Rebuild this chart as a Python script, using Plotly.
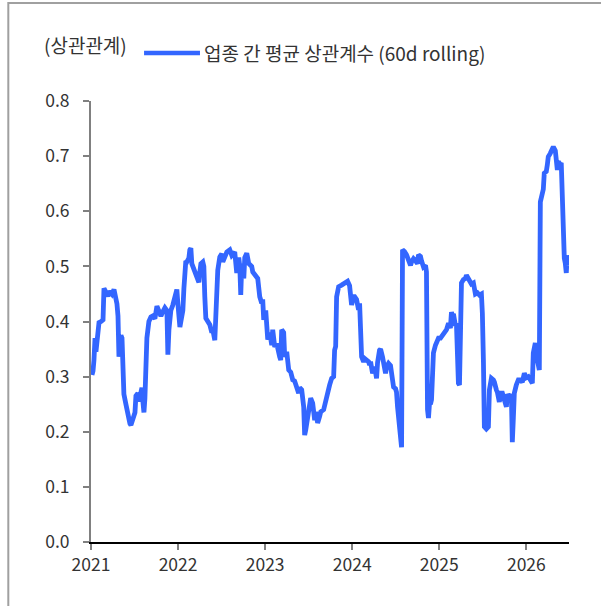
import plotly.graph_objects as go

# Time axis in decimal years (2021.0 = start of 2021)
years = [
    2021.011, 2021.023, 2021.034, 2021.046, 2021.057, 2021.069, 2021.080, 2021.092, 2021.115, 2021.138,
    2021.149, 2021.172, 2021.195, 2021.218, 2021.241, 2021.264, 2021.287, 2021.298, 2021.310, 2021.321,
    2021.333, 2021.344, 2021.356, 2021.367, 2021.378, 2021.401, 2021.424, 2021.447, 2021.459, 2021.482,
    2021.505, 2021.516, 2021.539, 2021.550, 2021.573, 2021.585, 2021.596, 2021.608, 2021.619, 2021.631,
    2021.642, 2021.665, 2021.688, 2021.711, 2021.734, 2021.757, 2021.780, 2021.803, 2021.826, 2021.849,
    2021.872, 2021.883, 2021.895, 2021.917, 2021.940, 2021.963, 2021.975, 2021.986, 2021.998,
    2022.021, 2022.032, 2022.055, 2022.067, 2022.078, 2022.089, 2022.101, 2022.124, 2022.135, 2022.147,
    2022.158, 2022.170, 2022.193, 2022.216, 2022.239, 2022.250, 2022.262, 2022.284, 2022.296, 2022.307,
    2022.319, 2022.342, 2022.365, 2022.388, 2022.399, 2022.422, 2022.434, 2022.445, 2022.456, 2022.479,
    2022.502, 2022.514, 2022.537, 2022.560, 2022.594, 2022.617, 2022.651, 2022.674, 2022.686, 2022.697,
    2022.709, 2022.720, 2022.732, 2022.755, 2022.766, 2022.789, 2022.812, 2022.846, 2022.858, 2022.881,
    2022.915, 2022.938, 2022.961, 2022.972, 2022.984,
    2023.007, 2023.018, 2023.030, 2023.053, 2023.076, 2023.087, 2023.110, 2023.133, 2023.145, 2023.167,
    2023.179, 2023.190, 2023.213, 2023.225, 2023.248, 2023.259, 2023.271, 2023.294, 2023.317, 2023.339,
    2023.362, 2023.385, 2023.397, 2023.420, 2023.443, 2023.454, 2023.466, 2023.489, 2023.500, 2023.523,
    2023.546, 2023.569, 2023.580, 2023.603, 2023.626, 2023.638, 2023.672, 2023.683, 2023.706, 2023.729,
    2023.741, 2023.764, 2023.787, 2023.798, 2023.810, 2023.821, 2023.844, 2023.878, 2023.913, 2023.947,
    2023.970, 2023.993,
    2024.016, 2024.028, 2024.050, 2024.073, 2024.085, 2024.096, 2024.108, 2024.131, 2024.142, 2024.165,
    2024.188, 2024.200, 2024.211, 2024.234, 2024.257, 2024.280, 2024.291, 2024.314, 2024.326, 2024.349,
    2024.360, 2024.383, 2024.395, 2024.417, 2024.440, 2024.452, 2024.475, 2024.498, 2024.509, 2024.521,
    2024.544, 2024.555, 2024.567, 2024.578, 2024.601, 2024.624, 2024.647, 2024.670, 2024.681, 2024.704,
    2024.727, 2024.750, 2024.761, 2024.784, 2024.796, 2024.819, 2024.842, 2024.853, 2024.865, 2024.876,
    2024.888, 2024.899, 2024.911, 2024.922, 2024.933, 2024.956, 2024.968, 2024.991,
    2025.014, 2025.025, 2025.048, 2025.071, 2025.083, 2025.106, 2025.128, 2025.140, 2025.151, 2025.163,
    2025.186, 2025.197, 2025.209, 2025.220, 2025.232, 2025.243, 2025.255, 2025.278, 2025.300, 2025.312,
    2025.335, 2025.358, 2025.369, 2025.392, 2025.404, 2025.415, 2025.438, 2025.461, 2025.484, 2025.495,
    2025.507, 2025.518, 2025.541, 2025.564, 2025.576, 2025.599, 2025.622, 2025.633, 2025.656, 2025.667,
    2025.690, 2025.702, 2025.725, 2025.748, 2025.771, 2025.782, 2025.805, 2025.828, 2025.839, 2025.851,
    2025.862, 2025.885, 2025.908, 2025.931, 2025.954, 2025.977,
    2026.000, 2026.023, 2026.034, 2026.069, 2026.080, 2026.103, 2026.115, 2026.138, 2026.149, 2026.161,
    2026.183, 2026.195, 2026.206, 2026.229, 2026.241, 2026.252, 2026.275, 2026.298, 2026.310, 2026.333,
    2026.344, 2026.356, 2026.367, 2026.390, 2026.401, 2026.424, 2026.436, 2026.447, 2026.459, 2026.470,
    2026.482,
]

# Average cross-sector correlation, 60-day rolling window
avg_corr = [
    0.303, 0.310, 0.330, 0.370, 0.345, 0.372, 0.390, 0.398, 0.400, 0.403,
    0.460, 0.452, 0.446, 0.455, 0.450, 0.458, 0.440, 0.432, 0.410, 0.336,
    0.360, 0.375, 0.370, 0.330, 0.268, 0.250, 0.228, 0.215, 0.212, 0.222,
    0.235, 0.265, 0.270, 0.255, 0.275, 0.280, 0.255, 0.235, 0.260, 0.340,
    0.370, 0.400, 0.408, 0.410, 0.405, 0.428, 0.415, 0.410, 0.418, 0.425,
    0.420, 0.340, 0.385, 0.420, 0.430, 0.450, 0.456, 0.458, 0.432,
    0.390, 0.400, 0.420, 0.460, 0.490, 0.510, 0.508, 0.515, 0.530, 0.533,
    0.505, 0.500, 0.488, 0.480, 0.471, 0.490, 0.505, 0.508, 0.500, 0.445,
    0.406, 0.400, 0.394, 0.380, 0.385, 0.366, 0.415, 0.453, 0.493, 0.517,
    0.523, 0.508, 0.515, 0.526, 0.530, 0.520, 0.526, 0.488, 0.500, 0.516,
    0.500, 0.448, 0.505, 0.478, 0.516, 0.524, 0.505, 0.500, 0.490, 0.484,
    0.478, 0.445, 0.433, 0.440, 0.403,
    0.420, 0.385, 0.367, 0.380, 0.357, 0.385, 0.354, 0.360, 0.348, 0.336,
    0.330, 0.385, 0.380, 0.336, 0.345, 0.330, 0.312, 0.308, 0.294, 0.292,
    0.281, 0.270, 0.280, 0.276, 0.245, 0.194, 0.203, 0.227, 0.244, 0.261,
    0.252, 0.221, 0.236, 0.216, 0.228, 0.236, 0.240, 0.249, 0.258, 0.276,
    0.285, 0.297, 0.300, 0.348, 0.355, 0.445, 0.463, 0.466, 0.471, 0.473,
    0.465, 0.430,
    0.445, 0.445, 0.440, 0.421, 0.433, 0.336, 0.336, 0.327, 0.333, 0.330,
    0.327, 0.321, 0.327, 0.306, 0.318, 0.297, 0.325, 0.348, 0.350, 0.335,
    0.320, 0.306, 0.318, 0.324, 0.320, 0.300, 0.281, 0.278, 0.272, 0.245,
    0.197, 0.188, 0.172, 0.530, 0.527, 0.521, 0.512, 0.502, 0.508, 0.514,
    0.510, 0.505, 0.521, 0.518, 0.510, 0.499, 0.502, 0.490, 0.240, 0.225,
    0.252, 0.250, 0.258, 0.288, 0.343, 0.357, 0.364, 0.370,
    0.370, 0.372, 0.379, 0.382, 0.385, 0.397, 0.388, 0.417, 0.410, 0.414,
    0.392, 0.397, 0.324, 0.288, 0.285, 0.370, 0.470, 0.476, 0.478, 0.484,
    0.476, 0.470, 0.468, 0.470, 0.450, 0.450, 0.452, 0.448, 0.450, 0.415,
    0.330, 0.209, 0.205, 0.209, 0.276, 0.297, 0.294, 0.290, 0.276, 0.272,
    0.254, 0.270, 0.270, 0.260, 0.245, 0.268, 0.262, 0.268, 0.181, 0.225,
    0.270, 0.285, 0.294, 0.294, 0.290, 0.306,
    0.298, 0.300, 0.296, 0.288, 0.343, 0.361, 0.340, 0.312, 0.312, 0.617,
    0.633, 0.640, 0.669, 0.672, 0.684, 0.699, 0.705, 0.715, 0.717, 0.710,
    0.681, 0.675, 0.690, 0.685, 0.688, 0.530, 0.515, 0.506, 0.488, 0.520,
    0.502,
]

tick_years = [2021, 2022, 2023, 2024, 2025, 2026]
tick_labels = ["2021", "2022", "2023", "2024", "2025", "2026"]
series_name = "업종 간 평균 상관계수 (60d rolling)"
unit_label = "(상관관계)"

LINE_COLOR = "#3366ff"
TEXT_COLOR = "#333333"
FONT = "Noto Sans CJK KR"

fig = go.Figure()
fig.add_trace(go.Scatter(
    x=years, y=avg_corr, mode="lines", name=series_name,
    line=dict(color=LINE_COLOR, width=4.8), showlegend=False,
))

fig.update_layout(
    width=601, height=606,
    margin=dict(l=91, r=32, t=101, b=64),
    paper_bgcolor="white", plot_bgcolor="white",
    font=dict(family=FONT, size=17.5, color=TEXT_COLOR),
    xaxis=dict(
        range=[2021, 2026.49], tickvals=tick_years, ticktext=tick_labels,
        showgrid=False, zeroline=False, showline=True, linecolor="#000000", linewidth=1.5,
        ticks="outside", ticklen=6, tickcolor="#808080", tickwidth=1.5,
    ),
    yaxis=dict(
        range=[0, 0.8], dtick=0.1, tickformat=".1f",
        showgrid=False, zeroline=False, showline=True, linecolor="#808080", linewidth=2,
        ticks="outside", ticklen=6, tickcolor="#808080", tickwidth=1.5,
        ticklabelstandoff=10,
    ),
    shapes=[
        # outer frame
        dict(type="rect", xref="paper", yref="paper", x0=-0.173, x1=1.3, y0=-0.3, y1=1.222,
             line=dict(color="#a0a0a0", width=2), fillcolor="rgba(0,0,0,0)", layer="below"),
        # legend swatch
        dict(type="line", xref="paper", yref="paper", x0=0.111, x1=0.228, y0=1.109, y1=1.109,
             line=dict(color=LINE_COLOR, width=4.5)),
    ],
    annotations=[
        dict(text=unit_label, xref="paper", yref="paper", x=-0.102, y=1.127,
             xanchor="left", yanchor="middle", showarrow=False, font=dict(size=19, color=TEXT_COLOR)),
        dict(text=series_name, xref="paper", yref="paper", x=0.232, y=1.109,
             xanchor="left", yanchor="middle", showarrow=False, font=dict(size=19, color=TEXT_COLOR)),
    ],
)

fig.write_html("out.html")
